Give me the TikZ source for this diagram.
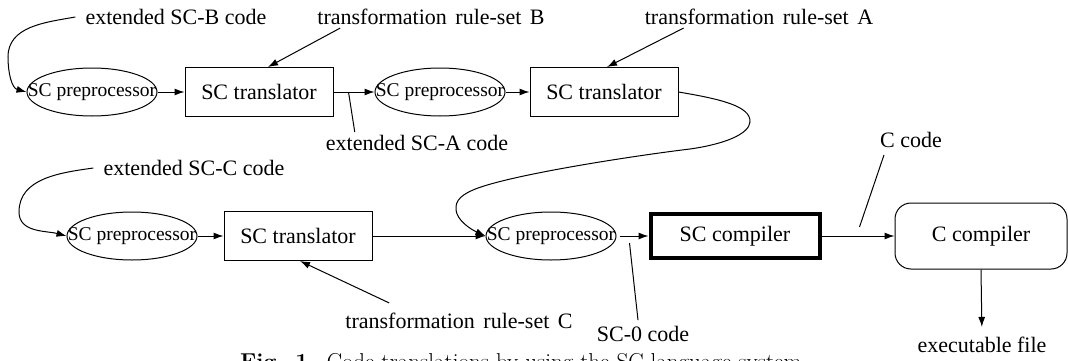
\documentclass[tikz,border=0pt]{standalone}
\usepackage{fontspec}
\newfontfamily\tms{Liberation Serif}
\usetikzlibrary{shapes.geometric,arrows.meta}

\begin{document}
\begin{tikzpicture}[x=1pt,y=1pt,
  lbl/.style={font=\tms\fontsize{22}{24}\selectfont, inner sep=0pt},
  pre/.style={ellipse, draw, line width=1pt, minimum width=130pt, minimum height=48pt,
    inner sep=0pt, font=\tms\fontsize{19.5}{22}\selectfont},
  trans/.style={rectangle, draw, line width=1pt, minimum width=148pt, minimum height=49pt,
    inner sep=0pt, font=\tms\fontsize{22}{24}\selectfont},
  arr/.style={-{Latex[length=10pt,width=7pt]}, line width=1pt},
  lead/.style={line width=1pt}
]
\useasboundingbox (0,0) rectangle (1068,360);
\clip (0,0) rectangle (1068,360);

% first chain
\node[pre]   (e1) at (92,268)  {\makebox[0pt]{SC preprocessor}};
\node[trans] (b1) at (259,268) {SC translator};
\node[pre]   (e2) at (440,268) {\makebox[0pt]{SC preprocessor}};
\node[trans] (b2) at (604,268) {SC translator};

% second chain
\node[pre]   (e3) at (132,124) {\makebox[0pt]{SC preprocessor}};
\node[trans] (b3) at (298,124) {SC translator};
\node[pre]   (e4) at (551,124) {\makebox[0pt]{SC preprocessor}};
\node[trans, line width=4pt, minimum width=169pt, minimum height=44pt] (sc) at (735,124) {SC compiler};
\node[trans, rounded corners=16pt, minimum width=172pt, minimum height=66pt] (cc) at (981,124) {C compiler};

% labels
\node[lbl] (lB)  at (176,343) {extended SC-B code};
\node[lbl] (rB)  at (431,343) {transformation\hspace{3pt} rule-set\hspace{3pt} B};
\node[lbl] (rA)  at (759,343) {transformation\hspace{3pt} rule-set\hspace{3pt} A};
\node[lbl] (lA)  at (417,217) {extended SC-A code};
\node[lbl] (lC)  at (194,192) {extended SC-C code};
\node[lbl] (rC)  at (459,39)  {transformation\hspace{3pt} rule-set\hspace{3pt} C};
\node[lbl] (l0)  at (643,26)  {SC-0 code};
\node[lbl] (lcc) at (911,220) {C code};
\node[lbl] (exe) at (982,15)  {executable file};

% chain arrows
\draw[arr] (e1) -- (b1);
\draw[arr] (b1) -- (e2);
\draw[arr] (e2) -- (b2);
\draw[arr] (e3) -- (b3);
\draw[arr] (b3) -- (e4);
\draw[arr, shorten <=3pt] (e4) -- (sc);
\draw[arr] (sc) -- (cc);
\draw[arr, shorten >=10pt] (cc.south) -- (exe.north);

% inputs to the preprocessors
\draw[arr] ([xshift=-10pt]lB.west) to[out=190,in=90] (8,303) to[out=-90,in=165] (e1.west);
\draw[arr] ([xshift=-10pt]lC.west) to[out=188,in=90] (19,148) to[out=-90,in=165] (e3.west);
\draw[arr] (b2.east) .. controls (720,261) and (751,254) .. (750,238)
  .. controls (749,226) and (725,216) .. (690,211)
  .. controls (640,205) and (520,187) .. (478,172)
  .. controls (462,166) and (455,160) .. (456,150)
  .. controls (457,140) and (470,131) .. (e4.west);

% rule sets
\draw[arr] ([xshift=23pt,yshift=-3pt]rB.south west) -- ([xshift=9pt]b1.north);
\draw[arr] ([xshift=39pt,yshift=-3pt]rA.south west) -- ([xshift=3pt]b2.north);
\draw[arr] ([xshift=44pt,yshift=10pt]rC.north west) -- ([xshift=2pt]b3.south);

% code leaders
\draw[lead] ([xshift=15pt]b1.east) -- ([xshift=29pt,yshift=3pt]lA.north west);
\draw[lead] ([xshift=13pt,yshift=-7pt]e4.east) -- ([xshift=-5pt,yshift=6pt]l0.north);
\draw[lead] ([xshift=-27pt,yshift=-7pt]lcc.south) -- ([xshift=-35pt,yshift=9pt]cc.west);

% caption, running off the lower edge
\node[anchor=base west, inner sep=0pt, font=\fontsize{23}{26}\selectfont] (cap) at (240,-9)
  {\textbf{Fig. 1.}\enspace Code translations by using the SC language system};
\end{tikzpicture}
\end{document}
